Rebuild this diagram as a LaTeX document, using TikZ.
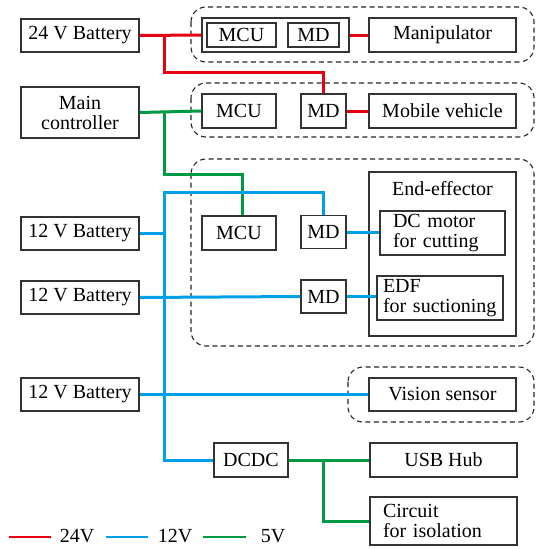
\documentclass[tikz,border=0pt]{standalone}
\usepackage{fontspec}
\setmainfont{Liberation Serif}
\newfontfamily\tnrfont{Liberation Serif}
\begin{document}
\begin{tikzpicture}[x=1pt,y=-1pt,
  box/.style={draw=black!80, line width=1.4pt, inner sep=0pt, align=center,
    font=\tnrfont\fontsize{20}{20}\selectfont},
  ltext/.style={draw=black!80, line width=1.4pt, inner ysep=0pt, align=left,
    font=\tnrfont\fontsize{20}{20}\selectfont},
  grp/.style={draw=black!85, line width=1.1pt, dash pattern=on 5pt off 3.5pt, rounded corners=15pt},
  redw/.style={draw={rgb,255:red,230;green,0;blue,18}, line width=3pt},
  bluew/.style={draw={rgb,255:red,0;green,160;blue,233}, line width=3pt},
  greenw/.style={draw={rgb,255:red,0;green,153;blue,68}, line width=3pt},
  lbl/.style={font=\tnrfont\fontsize{20}{20}\selectfont, inner sep=0pt}
]
\useasboundingbox (0,0) rectangle (536,549);
% dashed groups
\draw[grp] (191,7) rectangle (534,62);
\draw[grp] (191,83) rectangle (534,137);
\draw[grp] (191,159) rectangle (534,346);
\draw[grp] (348,367) rectangle (534,422);
% left column
\node[box, minimum width=118pt, minimum height=33pt] (bat24) at (80,35.5) {24 V Battery};
\node[box, minimum width=118pt, minimum height=51pt] (main) at (80,112.5) {Main\\controller};
\node[box, minimum width=118pt, minimum height=33pt] (bat12a) at (80,233.5) {12 V Battery};
\node[box, minimum width=118pt, minimum height=33pt] (bat12b) at (80,297.5) {12 V Battery};
\node[box, minimum width=118pt, minimum height=33pt] (bat12c) at (80,394.5) {12 V Battery};
% manipulator group
\node[box, minimum width=147pt, minimum height=34pt] (mm) at (275.5,35) {};
\node[box, minimum width=69pt, minimum height=24pt] (mcu1) at (241.5,35) {MCU};
\node[box, minimum width=51pt, minimum height=24pt] (md0) at (313.5,35) {MD};
\node[box, minimum width=147pt, minimum height=34pt] (manip) at (442.5,35) {Manipulator};
% mobile group
\node[box, minimum width=74pt, minimum height=34pt] (mcu2) at (239,111) {MCU};
\node[box, minimum width=45pt, minimum height=34pt] (md1) at (323.5,111) {MD};
\node[box, minimum width=147pt, minimum height=34pt] (mobile) at (442.5,111) {Mobile vehicle};
% end-effector group
\node[box, minimum width=74pt, minimum height=34pt] (mcu3) at (239,233) {MCU};
\node[box, minimum width=45pt, minimum height=33pt] (md2) at (323.5,232) {MD};
\node[box, minimum width=45pt, minimum height=33pt] (md3) at (323.5,296.5) {MD};
\node[box, minimum width=147pt, minimum height=164pt] (ee) at (442.5,254) {};
\node[lbl, anchor=center] (eetitle) at (442.5,189) {End-effector};
\node[ltext, inner xsep=13pt, text width=99pt, minimum height=44pt] (dcm) at (442.5,233) {DC motor\\for cutting};
\node[ltext, inner xsep=6pt, text width=114pt, minimum height=44pt] (edf) at (440,298) {EDF\\for suctioning};
% vision
\node[box, minimum width=147pt, minimum height=33pt] (vision) at (442.5,394.5) {Vision sensor};
% bottom
\node[box, minimum width=74pt, minimum height=34pt] (dcdc) at (251,460) {DCDC};
\node[box, minimum width=147pt, minimum height=34pt] (usb) at (443.5,460) {USB Hub};
\node[ltext, inner xsep=13pt, text width=121pt, minimum height=48pt] (circ) at (443.5,521) {Circuit\\for isolation};
% red wiring
\coordinate (jr) at (164,35.5);
\coordinate (rb) at (164,72);
\draw[redw] (bat24.east) -- (mm.west);
\draw[redw] (jr) -- (rb) -| (md1.north);
\draw[redw] (mm.east) -- (manip.west);
\draw[redw] (md1.east) -- (mobile.west);
% green wiring
\coordinate (jg) at (164,112);
\coordinate (gb) at (164,174);
\draw[greenw] (main.east) -- (mcu2.west);
\draw[greenw] (jg) -- (gb) -| ([xshift=3pt]mcu3.north);
\draw[greenw] (dcdc.east) -- (usb.west);
\coordinate (jg2) at (323,460);
\draw[greenw] (jg2) |- (circ.west);
% blue wiring
\coordinate (bt) at (164,192);
\draw[bluew] (md2.north) |- (bt) |- (dcdc.west);
\draw[bluew] (bat12a.east) -- (bat12a.east -| bt);
\draw[bluew] (bat12b.east) -- (md3.west);
\draw[bluew] (md2.east) -- (md2.east -| dcm.west);
\draw[bluew] (md3.east) -- (md3.east -| edf.west);
\draw[bluew] (bat12c.east) -- (vision.west);
% legend
\coordinate (lr1) at (9,537); \coordinate (lr2) at (51,537);
\coordinate (lb1) at (106,537); \coordinate (lb2) at (148,537);
\coordinate (lg1) at (203,537); \coordinate (lg2) at (246,537);
\draw[redw, line width=2.4pt] (lr1) -- (lr2);
\draw[bluew, line width=2.4pt] (lb1) -- (lb2);
\draw[greenw, line width=2.4pt] (lg1) -- (lg2);
\node[lbl] (l24) at (77,536) {24V};
\node[lbl] (l12) at (175,536) {12V};
\node[lbl] (l5) at (273,536) {5V};
\end{tikzpicture}
\end{document}
